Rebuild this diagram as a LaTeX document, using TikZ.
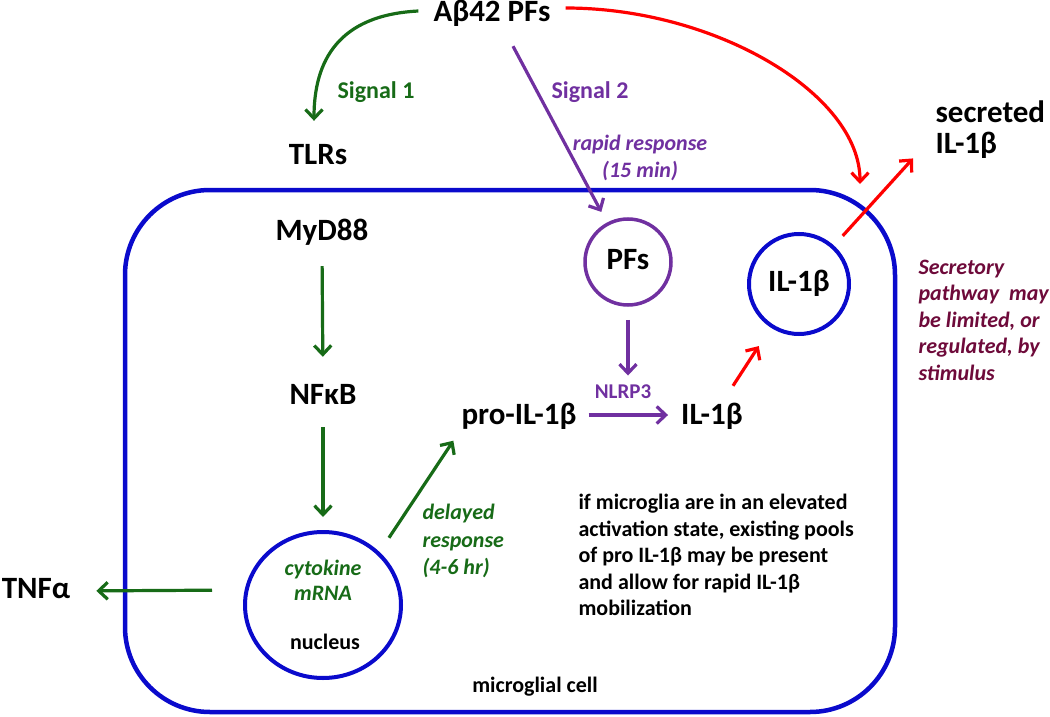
\documentclass[tikz,border=0pt]{standalone}
\usepackage{fontspec}
\setmainfont{Carlito}
\usetikzlibrary{arrows.meta,shapes.geometric}
\definecolor{dgreen}{HTML}{176B17}
\definecolor{ppurple}{HTML}{7030A0}
\definecolor{cblue}{HTML}{0A0ACC}
\definecolor{rred}{HTML}{FF0000}
\definecolor{maroon}{HTML}{6E0A3A}
\begin{document}
\begin{tikzpicture}[x=1pt,y=-1pt,
  bigfont/.style={font=\fontsize{31}{31}\selectfont\bfseries},
  big/.style={bigfont, text height=20pt, text depth=6pt, inner sep=3pt},
  sig/.style={font=\fontsize{24}{26}\selectfont\bfseries},
  note/.style={font=\fontsize{22}{26.5}\selectfont\bfseries\itshape},
  plain/.style={font=\fontsize{22}{26.5}\selectfont\bfseries},
  arr/.style={line width=3.2pt, -{Straight Barb[length=9pt,width=17pt]}},
  garr/.style={arr, draw=dgreen},
  parr/.style={arr, draw=ppurple},
  rarr/.style={arr, draw=rred},
  ring/.style={circle, draw, line width=4pt, inner sep=0pt}
]
\useasboundingbox (0,0) rectangle (1050,717);

% cell
\node[draw=cblue, line width=4.5pt, rounded corners=85pt, minimum width=770pt,
      minimum height=522pt, inner sep=0pt] (cell) at (510,451) {};

% top nodes
\node[big] (abeta) at (492,15) {Aβ42 PFs};
\node[big] (tlrs) at (318,157) {TLRs};
\node[bigfont, anchor=west, align=left] (sec) at (932,130) {secreted\\IL-1β};
\coordinate (redtip) at (860,184);

\node[sig, text=dgreen] (sig1) at (376,92) {Signal 1};
\node[sig, text=ppurple] (sig2) at (590,92) {Signal 2};
\node[note, text=ppurple, align=center, font=\fontsize{22}{27}\selectfont\bfseries\itshape] (rapid) at (640,158) {rapid response\\(15 min)};

% inside cell
\node[big] (myd) at (322,233) {MyD88};
\node[big] (nfkb) at (323,397) {NFκB};
\node[ellipse, draw=cblue, line width=4pt, minimum width=156pt, minimum height=146pt, inner sep=0pt] (nuc) at (323,605) {};
\node[note, text=dgreen, align=center, font=\fontsize{22}{25}\selectfont\bfseries\itshape] (mrna) at (323,580) {cytokine\\mRNA};
\node[font=\fontsize{22}{25}\selectfont\bfseries] (nuctext) at (325,642) {nucleus};
\node[big] (tnf) at (36,591) {TNFα};

\node[ring, draw=ppurple, line width=3.5pt, minimum size=86pt, big, inner sep=0pt] (pfs) at (628,262) {PFs};
\node[ring, draw=cblue, minimum size=100pt, big, inner sep=0pt] (ilc) at (799,284) {IL-1β};

\node[big] (proil) at (519,417) {pro-IL-1β};
\node[big] (il) at (712,417) {IL-1β};
\node[font=\fontsize{21}{24}\selectfont\bfseries, text=ppurple] (nlrp) at (623,392) {NLRP3};

\node[note, text=dgreen, align=left, anchor=west, font=\fontsize{22}{27.5}\selectfont\bfseries\itshape] (delayed) at (419,541) {delayed\\response\\(4-6 hr)};
\node[note, text=maroon, align=left, anchor=west] (secr) at (915,320) {Secretory\\pathway~ may\\be limited, or\\regulated, by\\stimulus};
\node[plain, align=left, anchor=west] (elev) at (575,555) {if microglia are in an elevated\\activation state, existing pools\\of pro IL-1β may be present\\and allow for rapid IL-1β\\mobilization};
\node[font=\fontsize{22}{25}\selectfont\bfseries] (mcell) at (535,687) {microglial cell};

% connectors
\draw[garr] ([xshift=-12pt,yshift=4pt]abeta.west) .. controls +(-80,4) and +(0,-60) .. ([xshift=-4pt,yshift=20pt]tlrs.north);
\draw[rarr] ([xshift=12pt,yshift=7pt]abeta.east) .. controls +(150,0) and +(0,-90) .. (redtip);
\draw[parr, shorten >=12pt] ([xshift=21pt,yshift=-15pt]abeta.south) -- (pfs);

\draw[garr, shorten <=17pt, shorten >=24pt] (myd.south) -- (nfkb.north);
\draw[garr, shorten <=14pt, shorten >=13pt] (nfkb.south) -- (nuc.north);
\draw[garr, shorten <=31pt, shorten >=23pt] ([yshift=15pt]nuc.west) -- (tnf.east);
\draw[garr, shorten <=17pt, shorten >=9pt] (nuc.north east) -- (proil.south west);

\draw[parr, shorten <=13pt, shorten >=6pt] (pfs.south) -- (pfs.south |- nlrp.north);
\draw[parr, shorten <=9pt, shorten >=10pt] ([yshift=2pt]proil.east) -- ([yshift=2pt]il.west);

\draw[rarr, shorten >=22pt] ([xshift=21pt,yshift=15pt]il.north) -- (ilc);
\draw[rarr, shorten <=13pt] (ilc) -- ([xshift=-19pt,yshift=4pt]sec.south west);
\end{tikzpicture}
\end{document}
